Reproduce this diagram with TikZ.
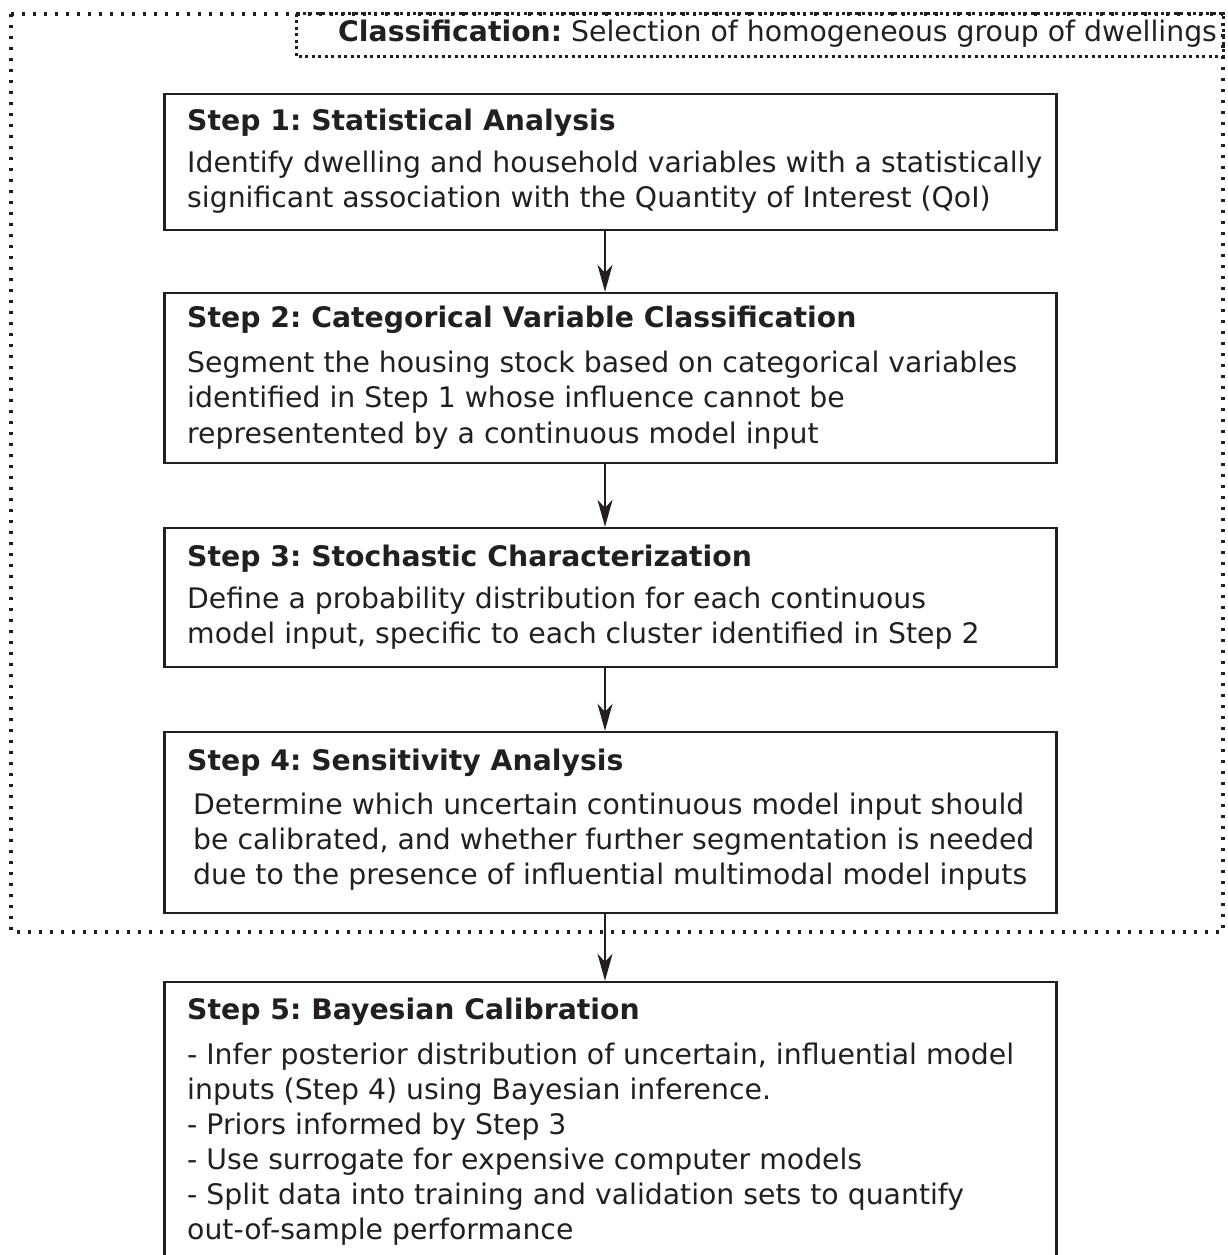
\documentclass[tikz,border=0pt]{standalone}
\usepackage{fontspec}
\setmainfont{DejaVu Sans}
\frenchspacing
\usetikzlibrary{arrows.meta}
\definecolor{ink}{HTML}{231F20}
\newcommand{\bodylines}[2]{\vtop{\baselineskip=#1pt\relax #2}}
\begin{document}
\begin{tikzpicture}[x=1pt,y=-1pt,
  every node/.style={text=ink},
  stepbox/.style={draw=ink, line width=2.4pt, minimum width=892pt, inner sep=0pt},
  ttl/.style={anchor=base west, inner sep=0pt, font=\fontsize{28.3}{35}\selectfont\bfseries},
  bodytxt/.style={anchor=base west, inner sep=0pt, font=\fontsize{28.3}{35}\selectfont},
  arr/.style={draw=ink, line width=2.2pt, -{Stealth[length=27pt,width=15pt,inset=8pt]}},
  outerdots/.style={draw=ink, line width=3.2pt, dash pattern=on 3.3pt off 7.7pt},
  labeldots/.style={draw=ink, line width=3pt, dash pattern=on 3pt off 3.5pt}
]
\useasboundingbox (0,0) rectangle (1227,1255);

% outer classification frame and its label box
\draw[outerdots] (11,14) rectangle (1223,932);
\draw[labeldots] (296,14) rectangle (1223,57);
\node[bodytxt] (lbl) at (338,42) {\textbf{Classification:} Selection of homogeneous group of dwellings};

% step boxes
\node[stepbox, minimum height=136pt] (s1) at (610.5,162) {};
\node[stepbox, minimum height=170pt] (s2) at (610.5,378) {};
\node[stepbox, minimum height=139pt] (s3) at (610.5,597.5) {};
\node[stepbox, minimum height=181pt] (s4) at (610.5,822.5) {};
\node[stepbox, minimum height=318pt] (s5) at (610.5,1141) {};

% texts
\node[ttl] (t1) at (187,130) {Step 1: Statistical Analysis};
\node[bodytxt] (b1) at (187,172) {\bodylines{35}{\hbox{Identify dwelling and household variables with a statistically}\hbox{significant association with the Quantity of Interest (QoI)}}};

\node[ttl] (t2) at (187,327) {Step 2: Categorical Variable Classification};
\node[bodytxt] (b2) at (187,372) {\bodylines{35.5}{\hbox{Segment the housing stock based on categorical variables}\hbox{identified in Step 1 whose influence cannot be}\hbox{representented by a continuous model input}}};

\node[ttl] (t3) at (187,566) {Step 3: Stochastic Characterization};
\node[bodytxt] (b3) at (187,608) {\bodylines{35}{\hbox{Define a probability distribution for each continuous}\hbox{model input, specific to each cluster identified in Step 2}}};

\node[ttl] (t4) at (187,770) {Step 4: Sensitivity Analysis};
\node[bodytxt] (b4) at (193,814) {\bodylines{35}{\hbox{Determine which uncertain continuous model input should}\hbox{be calibrated, and whether further segmentation is needed}\hbox{due to the presence of influential multimodal model inputs}}};

\node[ttl] (t5) at (187,1019) {Step 5: Bayesian Calibration};
\node[bodytxt] (b5) at (187,1064) {\bodylines{35}{\hbox{- Infer posterior distribution of uncertain, influential model}\hbox{inputs (Step 4) using Bayesian inference.}\hbox{- Priors informed by Step 3}\hbox{- Use surrogate for expensive computer models}\hbox{- Split data into training and validation sets to quantify}\hbox{out-of-sample performance}}};

% connectors
\coordinate (ax) at (605,0);
\draw[arr] (s1.south -| ax) -- (s2.north -| ax);
\draw[arr] (s2.south -| ax) -- (s3.north -| ax);
\draw[arr] (s3.south -| ax) -- (s4.north -| ax);
\draw[arr] (s4.south -| ax) -- (s5.north -| ax);
\end{tikzpicture}
\end{document}
